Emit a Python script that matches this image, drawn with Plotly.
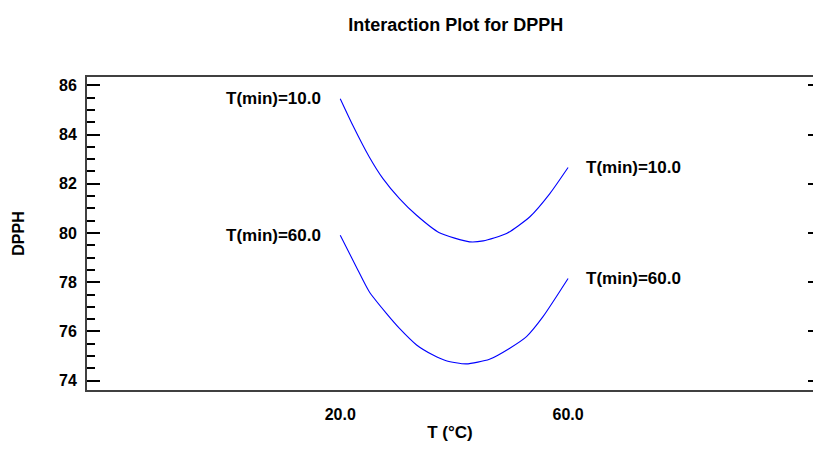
import plotly.graph_objects as go

# Data
t_upper = [20, 22.2, 25.1, 27.5, 30.4, 33.4, 37.4, 42.7, 45.1, 49.2, 53.3, 56.8, 60]
dpph_upper = [85.46, 84.38, 83.09, 82.21, 81.40, 80.72, 80.01, 79.64, 79.68, 79.98, 80.66, 81.60, 82.66]
label_upper = "T(min)=10.0"

t_lower = [20, 22.8, 25.1, 28.1, 30.4, 33.4, 36.3, 38.6, 42.1, 46.2, 49.7, 52.7, 55.6, 60]
dpph_lower = [79.91, 78.63, 77.61, 76.73, 76.12, 75.45, 75.04, 74.81, 74.68, 74.87, 75.31, 75.79, 76.60, 78.15]
label_lower = "T(min)=60.0"

x_tickvals = [20, 60]
x_ticktext = ["20.0", "60.0"]

FONT = "Liberation Sans"
BLUE = "#0000ff"
AX = "#404040"

fig = go.Figure()
for xs, ys in [(t_upper, dpph_upper), (t_lower, dpph_lower)]:
    fig.add_trace(go.Scatter(x=xs, y=ys, mode="lines",
                             line=dict(color=BLUE, width=1.1, shape="spline", smoothing=0.6),
                             showlegend=False, hoverinfo="skip"))
# invisible trace to carry the mirrored right-hand axis
fig.add_trace(go.Scatter(x=[t_upper[0]], y=[dpph_upper[0]], yaxis="y2", mode="markers",
                         marker=dict(opacity=0), showlegend=False, hoverinfo="skip"))

annotations = []
for xs, ys, lab in [(t_upper, dpph_upper, label_upper), (t_lower, dpph_lower, label_lower)]:
    annotations.append(dict(x=xs[0], y=ys[0], xref="x", yref="y", text=lab, showarrow=False,
                            xanchor="right", yanchor="middle", xshift=-17,
                            font=dict(family=FONT, size=17, color="black", weight="bold")))
    annotations.append(dict(x=xs[-1], y=ys[-1], xref="x", yref="y", text=lab, showarrow=False,
                            xanchor="left", yanchor="middle", xshift=16,
                            font=dict(family=FONT, size=17, color="black", weight="bold")))

yrange = [73.62, 86.34]

fig.update_layout(
    width=813, height=452,
    margin=dict(l=87, r=0, t=77, b=62),
    paper_bgcolor="white", plot_bgcolor="white",
    font=dict(family=FONT, size=16, color="black", weight="bold"),
    title=dict(text="Interaction Plot for DPPH", x=0.508, xref="paper", xanchor="center",
               y=1 - 25 / 452, yanchor="middle",
               font=dict(family=FONT, size=18, color="black", weight="bold")),
    xaxis=dict(range=[-24.46, 103.0], tickvals=x_tickvals, ticktext=x_ticktext,
               showgrid=False, zeroline=False, showline=True, mirror=True,
               linecolor=AX, linewidth=2, ticks="", ticklabelstandoff=9,
               tickfont=dict(family=FONT, size=16, color="black", weight="bold"),
               title=dict(text="T (°C)", standoff=4,
                          font=dict(family=FONT, size=17, color="black", weight="bold"))),
    yaxis=dict(range=yrange, dtick=2, tick0=74, showgrid=False, zeroline=False,
               showline=True, mirror=False, linecolor=AX, linewidth=2,
               ticks="inside", ticklen=13, tickwidth=1.5, tickcolor="black",
               ticklabelstandoff=5,
               minor=dict(dtick=0.5, tick0=74, ticks="inside", ticklen=8, tickwidth=1.5,
                          tickcolor="black", showgrid=False),
               tickfont=dict(family=FONT, size=16, color="black", weight="bold"),
               title=dict(text="DPPH", standoff=30,
                          font=dict(family=FONT, size=16, color="black", weight="bold"))),
    yaxis2=dict(range=yrange, dtick=2, tick0=74, overlaying="y", side="right",
                showgrid=False, zeroline=False, showline=False,
                ticks="inside", ticklen=5, tickwidth=2, tickcolor="black",
                showticklabels=False),
    annotations=annotations,
)

fig.write_html("out.html")
